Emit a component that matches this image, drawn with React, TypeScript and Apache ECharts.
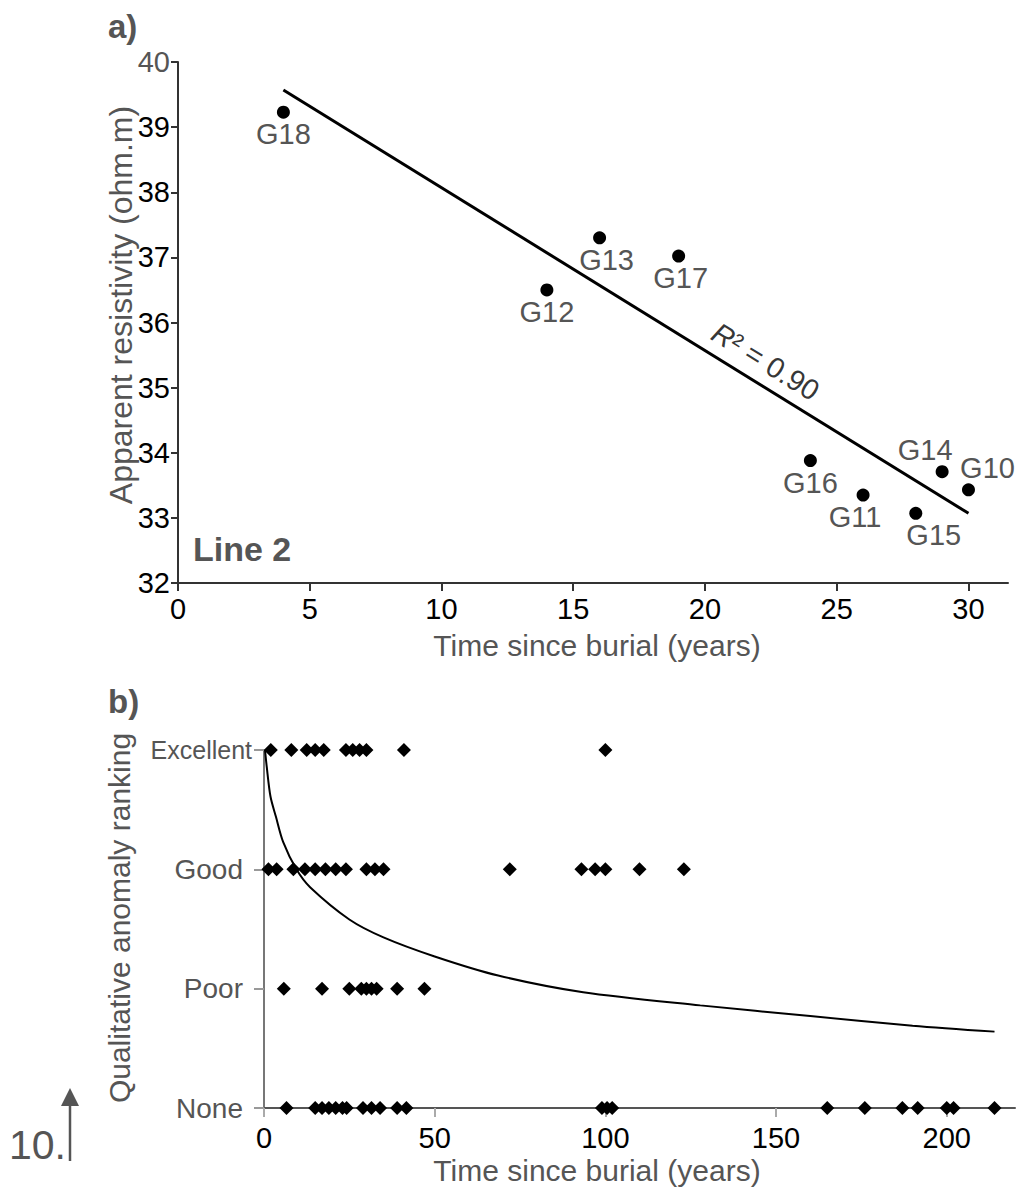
import React, { useEffect, useRef } from "react";
import * as echarts from "echarts";

// ---------- Panel a) data ----------
const graveNames = ["G18", "G12", "G13", "G17", "G16", "G11", "G15", "G14", "G10"];
const graveYears = [4, 14, 16, 19, 24, 26, 28, 29, 30];
const graveResistivity = [39.23, 36.5, 37.3, 37.02, 33.88, 33.35, 33.07, 33.71, 33.43];
const trendYears = [4, 30];
const trendResistivity = [39.57, 33.07];
const r2Text = "R² = 0.90";
const r2Anchor = [22.3, 35.4];
const topXTicks = [0, 5, 10, 15, 20, 25, 30];

// ---------- Panel b) data ----------
const rankLabels = ["None", "Poor", "Good", "Excellent"];
const excellentYears = [2, 8, 12.5, 15, 17.5, 24, 26, 28, 30, 41, 100];
const goodYears = [1.3, 3.7, 8.6, 12, 15, 18, 21, 24, 30, 32.5, 35, 72, 93, 97, 100, 110, 123];
const poorYears = [5.8, 17, 25, 28.5, 30, 31.5, 33, 39, 47];
const noneYears = [6.6, 15, 17, 19, 21, 23, 24.2, 29, 31.5, 34, 39, 41.7, 99, 100.5, 102, 165, 176, 187, 191.5, 200, 202, 214];
const curveYears = [0.3, 0.8, 1.9, 3.5, 5.6, 9.5, 13.5, 25, 35, 50, 68.6, 93.5, 127.8, 160, 190, 214];
const curveRank = [3.0, 2.86, 2.61, 2.44, 2.23, 2.0, 1.85, 1.58, 1.43, 1.27, 1.11, 0.97, 0.86, 0.77, 0.69, 0.64];
const bottomXTicks = [0, 50, 100, 150, 200];

// label placement (style only)
const labelPlacement: Record<string, [string, number]> = {
  G18: ["bottom", 0],
  G12: ["bottom", 0],
  G13: ["bottom", 7],
  G17: ["bottom", 2],
  G16: ["bottom", 0],
  G11: ["bottom", -8],
  G15: ["bottom", 18],
  G14: ["top", -17],
  G10: ["top", 19],
};

const FONT = "'Liberation Sans', Arial, Helvetica, sans-serif";
const GREY = "#555";

export default function App() {
  const ref = useRef<HTMLDivElement>(null);

  useEffect(() => {
    if (!ref.current) return;
    const chart = echarts.init(ref.current, null, { renderer: "svg" });

    const graveData = graveNames.map((n, i) => ({
      name: n,
      value: [graveYears[i], graveResistivity[i]],
      label: {
        position: labelPlacement[n][0],
        offset: [labelPlacement[n][1], 0],
      },
    }));

    const rankSeries = [noneYears, poorYears, goodYears, excellentYears].flatMap((arr, lvl) =>
      arr.map((x) => [x, lvl])
    );

    const option: any = {
      animation: false,
      textStyle: { fontFamily: FONT },
      grid: [
        { left: 178, top: 62, width: 830, height: 521, containLabel: false },
        { left: 264, top: 750, width: 751, height: 358, containLabel: false },
      ],
      xAxis: [
        {
          gridIndex: 0,
          type: "value",
          min: 0,
          max: 31.5,
          interval: 5,
          splitLine: { show: false },
          axisLine: { lineStyle: { color: "#333", width: 2 } },
          axisTick: { show: true, length: 8, customValues: topXTicks, lineStyle: { color: "#333", width: 2 } },
          axisLabel: { customValues: topXTicks, color: "#000", fontSize: 29, margin: 11, fontFamily: FONT },
        },
        {
          gridIndex: 1,
          type: "value",
          min: 0,
          max: 220,
          interval: 50,
          splitLine: { show: false },
          axisLine: { lineStyle: { color: "#555", width: 2 } },
          axisTick: { show: true, length: 9, customValues: bottomXTicks, lineStyle: { color: "#aaa", width: 2 } },
          axisLabel: { customValues: bottomXTicks, color: "#000", fontSize: 29, margin: 15, fontFamily: FONT },
        },
      ],
      yAxis: [
        {
          gridIndex: 0,
          type: "value",
          min: 32,
          max: 40,
          interval: 1,
          splitLine: { show: false },
          axisLine: { show: true, lineStyle: { color: "#333", width: 2 } },
          axisTick: { show: true, length: 7, lineStyle: { color: "#333", width: 2 } },
          axisLabel: {
            color: "#000",
            fontSize: 29,
            margin: 8,
            fontFamily: FONT,
            formatter: (v: number) => (v === 40 ? "{g|" + v + "}" : String(v)),
            rich: { g: { color: GREY, fontSize: 29, fontFamily: FONT } },
          },
        },
        {
          gridIndex: 1,
          type: "value",
          min: 0,
          max: 3,
          interval: 1,
          splitLine: { show: false },
          axisLine: { show: true, lineStyle: { color: "#777", width: 2 } },
          axisTick: { show: true, length: 10, lineStyle: { color: "#999", width: 2 } },
          axisLabel: {
            color: GREY,
            margin: 12,
            fontFamily: FONT,
            formatter: (v: number) => {
              const t = rankLabels[v] ?? "";
              return v === 3 ? "{e|" + t + "}" : "{r|" + t + "}";
            },
            rich: {
              e: { color: GREY, fontSize: 25, fontFamily: FONT },
              r: { color: GREY, fontSize: 28, fontFamily: FONT, padding: [0, 9, 0, 0] },
            },
          },
        },
      ],
      series: [
        {
          type: "line",
          xAxisIndex: 0,
          yAxisIndex: 0,
          data: trendYears.map((x, i) => [x, trendResistivity[i]]),
          showSymbol: false,
          symbol: "none",
          lineStyle: { color: "#000", width: 3 },
          silent: true,
        },
        {
          type: "scatter",
          xAxisIndex: 0,
          yAxisIndex: 0,
          symbol: "circle",
          symbolSize: 13,
          itemStyle: { color: "#000", opacity: 1 },
          label: {
            show: true,
            formatter: "{b}",
            color: GREY,
            fontSize: 29,
            distance: 1,
            fontFamily: FONT,
          },
          data: graveData,
        },
        {
          type: "scatter",
          xAxisIndex: 0,
          yAxisIndex: 0,
          symbolSize: 0,
          data: [r2Anchor],
          label: {
            show: true,
            position: "inside",
            rotate: -31.7,
            formatter: () => "{i|R}{n|" + r2Text.slice(1) + "}",
            rich: {
              i: { fontStyle: "italic", fontSize: 29, color: "#000", fontFamily: FONT },
              n: { fontSize: 29, color: "#000", fontFamily: FONT },
            },
          },
          silent: true,
        },
        {
          type: "line",
          xAxisIndex: 1,
          yAxisIndex: 1,
          data: curveYears.map((x, i) => [x, curveRank[i]]),
          smooth: 0.3,
          showSymbol: false,
          symbol: "none",
          lineStyle: { color: "#000", width: 2 },
          silent: true,
          z: 1,
        },
        {
          type: "scatter",
          xAxisIndex: 1,
          yAxisIndex: 1,
          symbol: "diamond",
          symbolSize: 14,
          itemStyle: { color: "#000", opacity: 1 },
          data: rankSeries,
          z: 3,
        },
      ],
      graphic: [
        { type: "text", left: 108, top: 10, style: { text: "a)", font: `bold 33px ${FONT}`, fill: GREY } },
        { type: "text", left: 108, top: 685, style: { text: "b)", font: `bold 33px ${FONT}`, fill: GREY } },
        { type: "text", left: 193, top: 532, style: { text: "Line 2", font: `bold 34px ${FONT}`, fill: GREY } },
        {
          type: "text",
          x: 597,
          y: 645,
          style: { text: "Time since burial (years)", font: `30px ${FONT}`, fill: GREY, textAlign: "center", textVerticalAlign: "middle" },
        },
        {
          type: "text",
          x: 121,
          y: 305,
          rotation: Math.PI / 2,
          style: { text: "Apparent resistivity (ohm.m)", font: `32px ${FONT}`, fill: GREY, textAlign: "center", textVerticalAlign: "middle" },
        },
        {
          type: "text",
          x: 597,
          y: 1170,
          style: { text: "Time since burial (years)", font: `30px ${FONT}`, fill: GREY, textAlign: "center", textVerticalAlign: "middle" },
        },
        {
          type: "text",
          x: 119,
          y: 918,
          rotation: Math.PI / 2,
          style: { text: "Qualitative anomaly ranking", font: `30px ${FONT}`, fill: GREY, textAlign: "center", textVerticalAlign: "middle" },
        },
        {
          type: "text",
          x: 9,
          y: 1145,
          style: { text: "10.", font: `41px ${FONT}`, fill: GREY, textAlign: "left", textVerticalAlign: "middle" },
        },
        { type: "line", shape: { x1: 70, y1: 1161, x2: 70, y2: 1100 }, style: { stroke: GREY, lineWidth: 2.5 } },
        { type: "polygon", shape: { points: [[61, 1106], [79, 1106], [70, 1088]] }, style: { fill: GREY } },
      ],
    };

    chart.setOption(option);
    return () => chart.dispose();
  }, []);

  return (
    <div
      ref={ref}
      style={{ position: "absolute", left: 0, top: 0, width: 1016, height: 1189, background: "#fff" }}
    />
  );
}
